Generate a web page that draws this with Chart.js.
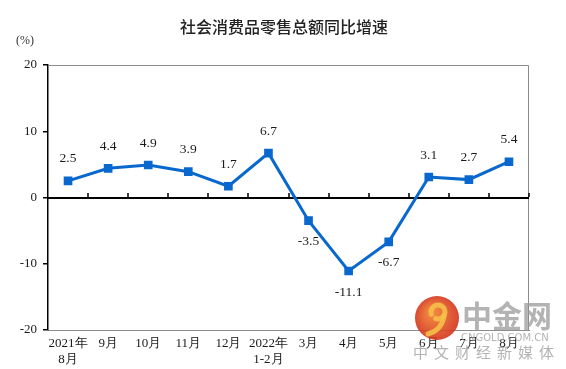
<!DOCTYPE html>
<html>
<head>
<meta charset="utf-8">
<script src="https://cdn.jsdelivr.net/npm/chart.js@4/dist/chart.umd.min.js"></script>
<style>
  html, body { margin: 0; padding: 0; background: #fff; }
  #wrap { width: 566px; height: 369px; }
</style>
</head>
<body>
<div id="wrap"><canvas id="salesChart" width="566" height="369"></canvas></div>
<script>
const months = [['2021年', '8月'], '9月', '10月', '11月', '12月', ['2022年', '1-2月'], '3月', '4月', '5月', '6月', '7月', '8月'];
const growth = [2.5, 4.4, 4.9, 3.9, 1.7, 6.7, -3.5, -11.1, -6.7, 3.1, 2.7, 5.4];
const yTicks = [20, 10, 0, -10, -20];

const serif = '"Liberation Serif", "Times New Roman", serif';
const cjk = '"Noto Sans CJK SC", sans-serif';
const lineBlue = 'rgb(8, 104, 206)';

// title, frame, zero line with ticks, value labels, watermark
const decor = {
  id: 'decor',
  beforeDatasetsDraw(chart) {
    const { ctx, chartArea: a, scales: { x, y } } = chart;
    ctx.save();
    ctx.strokeStyle = '#8c8c8c';
    ctx.lineWidth = 1;
    ctx.beginPath();
    ctx.moveTo(a.left, a.top + 0.5);
    ctx.lineTo(a.right - 0.5, a.top + 0.5);
    ctx.lineTo(a.right - 0.5, a.bottom);
    ctx.stroke();

    const y0 = Math.round(y.getPixelForValue(0));
    ctx.strokeStyle = '#000';
    ctx.lineWidth = 2;
    ctx.beginPath();
    ctx.moveTo(a.left, y0);
    ctx.lineTo(a.right, y0);
    ctx.stroke();
    const step = x.getPixelForValue(1) - x.getPixelForValue(0);
    ctx.lineWidth = 1.5;
    ctx.beginPath();
    for (let i = 0; i < months.length; i++) {
      const px = Math.round(x.getPixelForValue(i) + step / 2);
      ctx.moveTo(px, y0 - 1);
      ctx.lineTo(px, y0 - 5);
    }
    ctx.stroke();
    ctx.restore();
  },
  afterDraw(chart) {
    const { ctx, scales: { x, y } } = chart;
    ctx.save();
    ctx.fillStyle = '#222';
    ctx.font = '500 16px ' + cjk;
    ctx.textAlign = 'center';
    ctx.textBaseline = 'middle';
    ctx.fillText('社会消费品零售总额同比增速', 284, 27);
    ctx.font = '12px ' + serif;
    ctx.fillStyle = '#333';
    ctx.fillText('(%)', 25, 41);

    ctx.font = '13.5px ' + serif;
    ctx.fillStyle = '#1a1a1a';
    growth.forEach((v, i) => {
      const px = x.getPixelForValue(i);
      const py = y.getPixelForValue(v);
      ctx.fillText(v.toFixed(1), px, v >= 0 ? py - 22 : py + 21);
    });

    // watermark
    ctx.globalAlpha = 0.9;
    const grad = ctx.createRadialGradient(432, 312, 4, 437, 318, 23);
    grad.addColorStop(0, '#f0782a');
    grad.addColorStop(1, '#d2311c');
    ctx.fillStyle = grad;
    ctx.beginPath();
    ctx.arc(437, 318, 22, 0, Math.PI * 2);
    ctx.fill();
    ctx.strokeStyle = '#f6c04a';
    ctx.lineCap = 'round';
    ctx.lineWidth = 5;
    ctx.beginPath();
    ctx.arc(438, 312, 7, Math.PI * 0.9, Math.PI * 0.6, false);
    ctx.stroke();
    ctx.beginPath();
    ctx.moveTo(444, 316);
    ctx.quadraticCurveTo(442, 330, 428, 334);
    ctx.stroke();
    ctx.globalAlpha = 0.75;
    ctx.fillStyle = '#9a9a9a';
    ctx.font = 'bold 30px ' + cjk;
    ctx.textAlign = 'left';
    ctx.fillText('中金网', 462, 316);
    ctx.font = '10px "DejaVu Sans", sans-serif';
    ctx.fillText('CNGOLD.COM.CN', 461, 338);
    ctx.font = '15px ' + cjk;
    const tag = '中文财经新媒体';
    for (let k = 0; k < tag.length; k++) {
      ctx.fillText(tag[k], 413 + k * 21, 352);
    }
    ctx.restore();
  }
};

new Chart(document.getElementById('salesChart'), {
  type: 'line',
  data: {
    labels: months,
    datasets: [{
      data: growth,
      borderColor: lineBlue,
      backgroundColor: lineBlue,
      borderWidth: 3,
      pointStyle: 'rect',
      pointRadius: 4,
      pointHoverRadius: 4,
      tension: 0
    }]
  },
  options: {
    responsive: false,
    animation: false,
    layout: { padding: { top: 65, right: 37, left: 0, bottom: 0 } },
    plugins: {
      legend: { display: false },
      tooltip: { enabled: false }
    },
    scales: {
      x: {
        offset: true,
        grid: { display: false, drawTicks: false },
        border: { display: true, color: '#8c8c8c', width: 1 },
        ticks: {
          color: '#1a1a1a',
          font: { family: serif, size: 13, lineHeight: 1.25 },
          padding: 5,
          maxRotation: 0,
          autoSkip: false
        },
        afterFit(scale) { scale.height = 39; }
      },
      y: {
        min: -20,
        max: 20,
        afterBuildTicks(scale) { scale.ticks = yTicks.map(v => ({ value: v })); },
        grid: { drawOnChartArea: false, color: '#000', tickLength: 5, lineWidth: 1.5 },
        border: { display: true, color: '#000', width: 1.5 },
        ticks: {
          color: '#1a1a1a',
          font: { family: serif, size: 13 },
          padding: 6
        },
        afterFit(scale) { scale.width = 48; }
      }
    }
  },
  plugins: [decor]
});
</script>
</body>
</html>
